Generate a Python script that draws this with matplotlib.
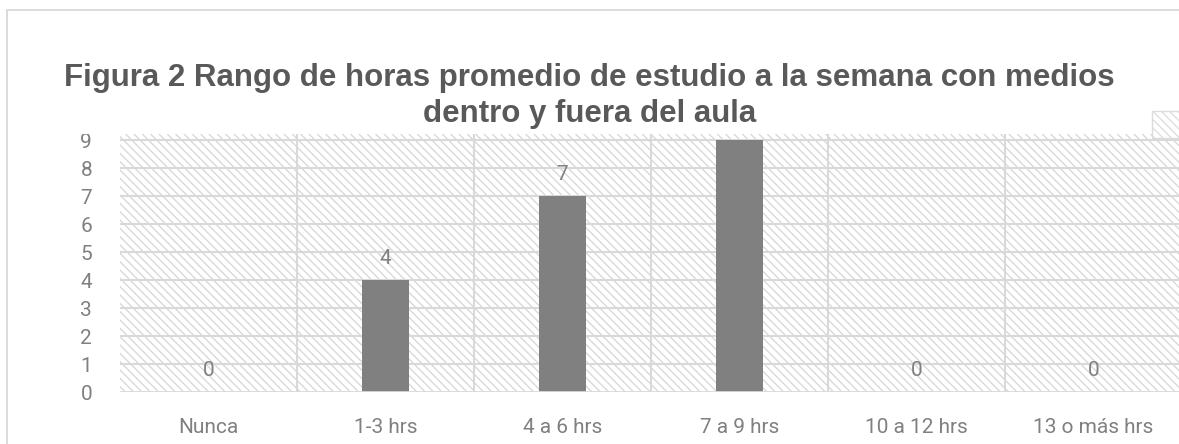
import matplotlib.pyplot as plt
from matplotlib.patches import Rectangle

categorias = ["Nunca", "1-3 hrs", "4 a 6 hrs", "7 a 9 hrs", "10 a 12 hrs", "13 o más hrs"]
valores = [0, 4, 7, 9, 0, 0]
ticks_y = [0, 1, 2, 3, 4, 5, 6, 7, 8, 9]

titulo = "Figura 2 Rango de horas promedio de estudio a la semana con medios\ndentro y fuera del aula"

plt.rcParams['hatch.color'] = '#d6d6d6'
plt.rcParams['hatch.linewidth'] = 0.9

W, H = 1179, 444
fig = plt.figure(figsize=(W / 100, H / 100), dpi=100)

top = (H - 134.5) / H
bottom = (H - 392) / H
ymax = 9.2

# borde del area del grafico (cortado a la derecha y abajo)
fig.patches.append(Rectangle((7 / W, -0.1), 1.2, (H - 10) / H + 0.1, transform=fig.transFigure,
                             fill=False, edgecolor='#d9d9d9', linewidth=1.3, zorder=1))

# franja blanca sobre el area de trazado: corta el "9" del eje y
fig.patches.append(Rectangle((20 / W, top), 1130 / W, 0.2, transform=fig.transFigure,
                             facecolor='white', edgecolor='none', zorder=1.5))

# pedazo de fondo rayado arriba a la derecha
fig.patches.append(Rectangle((1152 / W, (H - 138) / H), 0.1, 27 / H, transform=fig.transFigure,
                             facecolor='white', edgecolor='#dcdcdc', hatch='\\\\\\\\',
                             linewidth=1.0, zorder=2))

ax = fig.add_axes([120 / W, bottom, 1062 / W, top - bottom])
ax.patch.set_facecolor('white')
ax.patch.set_hatch('\\\\\\\\')
ax.patch.set_edgecolor('#d6d6d6')
ax.patch.set_linewidth(0)

x = list(range(len(categorias)))
barras = ax.bar(x, valores, width=0.27, color='#808080', zorder=3)

ax.set_xlim(-0.5, len(categorias) - 0.5)
ax.set_ylim(0, ymax)
ax.set_yticks(ticks_y)
ax.set_xticks(x)
ax.set_xticklabels(categorias)

# cuadricula horizontal y separadores de categorias
for v in ticks_y[1:]:
    ax.axhline(v, color='#d9d9d9', linewidth=1.5, zorder=1)
for b in [i + 0.5 for i in x[:-1]]:
    ax.axvline(b, color='#d9d9d9', linewidth=1.5, zorder=1)
ax.axhline(0, color='#d9d9d9', linewidth=2, zorder=4)

for s in ax.spines.values():
    s.set_visible(False)

fuente = ['Roboto', 'DejaVu Sans']
ax.tick_params(axis='both', length=0, labelcolor='#808080', labelsize=15)
ax.tick_params(axis='x', pad=19)
ax.tick_params(axis='y', pad=20)
for lab in ax.get_xticklabels() + ax.get_yticklabels():
    lab.set_family(fuente)

etiquetas = ax.bar_label(barras, padding=9, color='#808080', fontsize=15, family=fuente)
# la etiqueta que cae fuera del area de trazado no se ve
for v, e in zip(valores, etiquetas):
    if v > ymax - 1:
        e.set_visible(False)

fig.text(0.5, 1 - 96 / H, titulo, ha='center', va='center', fontsize=22.5, fontweight='bold',
         color='#595959', family=['Liberation Sans', 'DejaVu Sans'], linespacing=1.25, zorder=3)

fig.savefig('out.png', dpi=100)
